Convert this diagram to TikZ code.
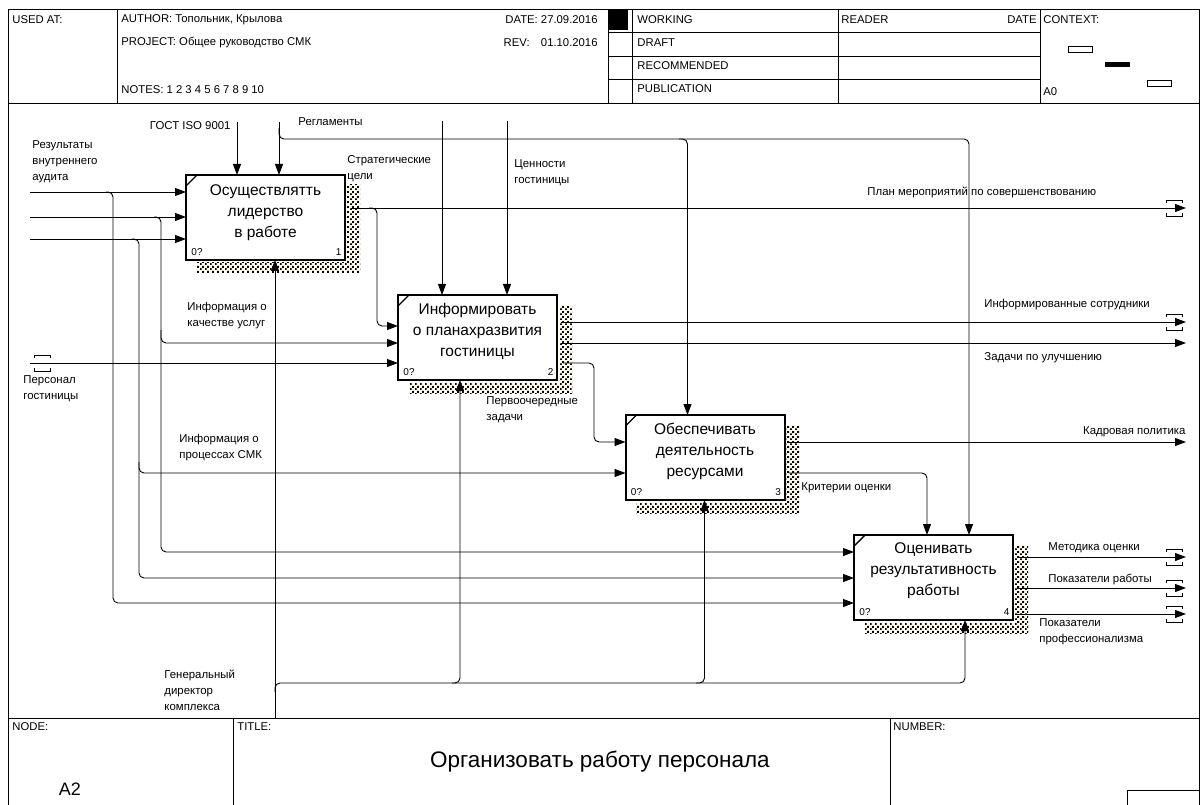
\documentclass[tikz,border=0pt]{standalone}
\usepackage{fontspec}
\setmainfont{Liberation Sans}
\usetikzlibrary{arrows.meta,calc,patterns}
\pgfdeclarepatternformonly{idefdots}{\pgfpointorigin}{\pgfpoint{5pt}{5pt}}{\pgfpoint{5pt}{5pt}}{%
  \pgfpathrectangle{\pgfpoint{0pt}{0pt}}{\pgfpoint{2pt}{2pt}}%
  \pgfpathrectangle{\pgfpoint{2.5pt}{2.5pt}}{\pgfpoint{2pt}{2pt}}%
  \pgfusepath{fill}}
\definecolor{cream}{RGB}{255,252,236}
\newcommand\hvalfont{\fontsize{11.3}{12}\selectfont}
\newcommand\idefShadow[1]{%
  \fill[shadowband] ($(#1.north east)+(2,10)$) rectangle ($(#1.south east)+(15,13)$);
  \fill[shadowband] ($(#1.south west)+(11,3)$) rectangle ($(#1.south east)+(15,13)$);}
\newcommand\idefCorner[1]{%
  \draw[line width=1.4pt] ($(#1.north west)+(0,11)$) -- ($(#1.north west)+(11,0)$);}
\newcommand\idefTunnelR[1]{%
  \draw[line width=0.9pt] ($(#1)+(-20,-5)$) -- ++(0,-3) -- ++(16,0) -- ++(0,3);
  \draw[line width=0.9pt] ($(#1)+(-20,5)$) -- ++(0,3) -- ++(16,0) -- ++(0,-3);}
\newcommand\idefTunnelL[1]{%
  \draw[line width=0.9pt] ($(#1)+(4,-5)$) -- ++(0,-3) -- ++(16,0) -- ++(0,3);
  \draw[line width=0.9pt] ($(#1)+(4,5)$) -- ++(0,3) -- ++(16,0) -- ++(0,-3);}
\begin{document}
\begin{tikzpicture}[x=1pt,y=-1pt,line width=0.9pt,
  box/.style={draw,line width=2pt,minimum width=159pt,minimum height=85pt,inner sep=0pt,outer sep=0pt},
  btxt/.style={font=\fontsize{15.5}{21}\selectfont,align=center,inner sep=0pt},
  lbl/.style={font=\fontsize{11.4}{16}\selectfont,inner sep=0pt,align=left},
  num/.style={font=\fontsize{10}{12}\selectfont,inner sep=0pt},
  hdr/.style={font=\fontsize{11.3}{12}\selectfont,inner sep=0pt,anchor=west},
  arr/.style={-{Triangle[length=11pt,width=8pt]}},
  rc/.style={rounded corners=5pt},
  shadowband/.style={fill=cream,postaction={pattern=idefdots,pattern color=black}}]
\useasboundingbox (0,0) rectangle (1200,805);

% ---------- frame and header ----------
\draw (8,9) rectangle (1199.5,805);
\draw (8,103) -- (1199.5,103);
\draw (117,9) -- (117,103);
\draw (608,9) -- (608,103);
\draw (632,9) -- (632,103);
\draw (838,9) -- (838,103);
\draw (1040,9) -- (1040,103);
\fill (608,9) rectangle (628,30);
\draw (608,32) -- (1040,32);
\draw (608,56) -- (1040,56);
\draw (608,79) -- (1040,79);
\draw (1068,46) rectangle (1092,52);
\fill (1105,62) rectangle (1130,67);
\draw (1147,80) rectangle (1171,86);

\node[hdr] (usedat) at (12,20) {USED AT:};
\node[hdr] (author) at (121,20) {AUTHOR: {\hvalfont Топольник, Крылова}};
\node[hdr] (project) at (121,43) {PROJECT: {\hvalfont Общее руководство СМК}};
\node[hdr] (notes) at (121,90) {NOTES: 1 2 3 4 5 6 7 8 9 10};
\node[hdr,anchor=east] (date) at (598,20) {DATE: {\hvalfont 27.09.2016}};
\node[hdr,anchor=east] (rev) at (598,43) {REV:\quad{\hvalfont 01.10.2016}};
\node[hdr] (working) at (637,20) {WORKING};
\node[hdr] (draft) at (637,43) {DRAFT};
\node[hdr] (recom) at (637,66) {RECOMMENDED};
\node[hdr] (publ) at (637,89) {PUBLICATION};
\node[hdr] (reader) at (841,20) {READER};
\node[hdr,anchor=east] (rdate) at (1037,20) {DATE};
\node[hdr] (context) at (1043,20) {CONTEXT:};
\node[hdr] (a0) at (1043,92) {A0};

% ---------- footer ----------
\draw (8,718) -- (1199.5,718);
\draw (233,718) -- (233,805);
\draw (890,718) -- (890,805);
\draw (1127,790) rectangle (1200,805);
\node[hdr] (nodelbl) at (12,727) {NODE:};
\node[hdr] (titlelbl) at (237,727) {TITLE:};
\node[hdr] (numlbl) at (893,727) {NUMBER:};
\node[font=\fontsize{18}{20}\selectfont,inner sep=0pt] (a2) at (70,789) {A2};
\node[font=\fontsize{22.5}{26}\selectfont,inner sep=0pt] (title) at (600,762) {Организовать работу персонала};

% ---------- shadows and boxes ----------
\node[box] (b1) at (265.5,217.5) {};
\node[box] (b2) at (477.5,337.5) {};
\node[box] (b3) at (705,457.5) {};
\node[box] (b4) at (933.5,577.5) {};
\idefShadow{b1}\idefShadow{b2}\idefShadow{b3}\idefShadow{b4}
\idefCorner{b1}\idefCorner{b2}\idefCorner{b3}\idefCorner{b4}

\node[btxt] (b1t) at ($(b1)+(0,-5)$) {Осуществлятть\\лидерство\\в работе};
\node[btxt] (b2t) at ($(b2)+(0,-6.5)$) {Информировать\\о планахразвития\\гостиницы};
\node[btxt] (b3t) at ($(b3)+(0,-6.5)$) {Обеспечивать\\деятельность\\ресурсами};
\node[btxt] (b4t) at ($(b4)+(0,-6.5)$) {Оценивать\\результативность\\работы};

\node[num,anchor=west] (b1z) at ($(b1.south west)+(5,-8)$) {0?};
\node[num,anchor=east] (b1n) at ($(b1.south east)+(-3,-8)$) {1};
\node[num,anchor=west] (b2z) at ($(b2.south west)+(5,-8)$) {0?};
\node[num,anchor=east] (b2n) at ($(b2.south east)+(-3,-8)$) {2};
\node[num,anchor=west] (b3z) at ($(b3.south west)+(5,-8)$) {0?};
\node[num,anchor=east] (b3n) at ($(b3.south east)+(-3,-8)$) {3};
\node[num,anchor=west] (b4z) at ($(b4.south west)+(5,-8)$) {0?};
\node[num,anchor=east] (b4n) at ($(b4.south east)+(-3,-8)$) {4};

% ---------- ports ----------
\path (b1.north west) ++(0,17) coordinate (b1i1);
\path (b1.north west) ++(0,42) coordinate (b1i2);
\path (b1.north west) ++(0,64) coordinate (b1i3);
\path (b1.north west) ++(51,0) coordinate (b1c1);
\path (b1.north west) ++(93,0) coordinate (b1c2);
\path (b1.south west) ++(89,0) coordinate (b1m1);
\path (b1.north east) ++(6,33) coordinate (b1o1);

\path (b2.north west) ++(0,31) coordinate (b2i1);
\path (b2.north west) ++(0,48) coordinate (b2i2);
\path (b2.north west) ++(0,68) coordinate (b2i3);
\path (b2.north west) ++(44,0) coordinate (b2c1);
\path (b2.north west) ++(109,0) coordinate (b2c2);
\path (b2.south west) ++(62,0) coordinate (b2m1);
\path (b2.north east) ++(4,27) coordinate (b2o1);
\path (b2.north east) ++(4,48) coordinate (b2o2);
\path (b2.north east) ++(6,68) coordinate (b2o3);

\path (b3.north west) ++(0,27) coordinate (b3i1);
\path (b3.north west) ++(0,58) coordinate (b3i2);
\path (b3.north west) ++(62,0) coordinate (b3c1);
\path (b3.south west) ++(79,0) coordinate (b3m1);
\path (b3.north east) ++(4,27) coordinate (b3o1);
\path (b3.north east) ++(4,58) coordinate (b3o2);

\path (b4.north west) ++(0,17) coordinate (b4i1);
\path (b4.north west) ++(0,43) coordinate (b4i2);
\path (b4.north west) ++(0,68) coordinate (b4i3);
\path (b4.north west) ++(73,0) coordinate (b4c1);
\path (b4.north west) ++(115,0) coordinate (b4c2);
\path (b4.south west) ++(111,0) coordinate (b4m1);
\path (b4.north east) ++(4,22) coordinate (b4o1);
\path (b4.north east) ++(4,53) coordinate (b4o2);
\path (b4.north east) ++(4,79) coordinate (b4o3);

% free ends
\coordinate (L1) at (b1i1 -| 30,0);
\coordinate (L2) at (b1i2 -| 30,0);
\coordinate (L3) at (b1i3 -| 30,0);
\coordinate (L4) at (b2i3 -| 30,0);
\coordinate (T1) at (b1c1 |- 0,122);
\coordinate (T2) at (b1c2 |- 0,122);
\coordinate (T3) at (b2c1 |- 0,121);
\coordinate (T4) at (b2c2 |- 0,121);
\coordinate (R1) at (b1o1 -| 1186,0);
\coordinate (R2) at (b2o1 -| 1186,0);
\coordinate (R3) at (b2o2 -| 1186,0);
\coordinate (R4) at (b3o1 -| 1186,0);
\coordinate (R5) at (b4o1 -| 1186,0);
\coordinate (R6) at (b4o2 -| 1186,0);
\coordinate (R7) at (b4o3 -| 1186,0);
\coordinate (M) at (b1m1 |- 0,718);

% ---------- inputs ----------
\draw[arr] (L1) -- (b1i1);
\draw[arr] (L2) -- (b1i2);
\draw[arr] (L3) -- (b1i3);
\draw[arr,rc] (106,0 |- b1i1) -| (113,0 |- b4i3) -- (b4i3);
\draw[arr,rc] (154,0 |- b1i2) -| (161,0 |- b4i1) -- (b4i1);
\draw[arr,rc] (161,330) |- (b2i2);
\draw[arr,rc] (132,0 |- b1i3) -| (139,0 |- b4i2) -- (b4i2);
\draw[arr,rc] (139,462) |- (b3i2);
\draw[arr] (L4) -- (b2i3);
\idefTunnelL{L4}

% ---------- controls ----------
\draw[arr] (T1) -- (b1c1);
\draw[arr] (T2) -- (b1c2);
\draw[arr,rc] (b1c2 |- 0,128) |- (b4c2 |- 0,139) -- (b4c2);
\draw[arr,rc] (679,139) -| (b3c1);
\draw[arr] (T3) -- (b2c1);
\draw[arr] (T4) -- (b2c2);

% ---------- outputs ----------
\draw[arr] (b1o1) -- (R1);
\draw[arr,rc] (369,0 |- b1o1) -| (377,0 |- b2i1) -- (b2i1);
\draw[arr] (b2o1) -- (R2);
\draw[arr] (b2o2) -- (R3);
\draw[arr,rc] (b2o3) -| (594,0 |- b3i1) -- (b3i1);
\draw[arr] (b3o1) -- (R4);
\draw[arr,rc] (b3o2) -| (b4c1);
\draw[arr] (b4o1) -- (R5);
\draw[arr] (b4o2) -- (R6);
\draw[arr] (b4o3) -- (R7);
\idefTunnelR{R1}\idefTunnelR{R2}\idefTunnelR{R5}\idefTunnelR{R6}\idefTunnelR{R7}

% ---------- mechanisms ----------
\draw[arr] (M) -- (b1m1);
\draw[arr,rc] (b1m1 |- 0,692) |- (b4m1 |- 0,683) -- (b4m1);
\draw[arr,rc] (452,683) -| (b2m1);
\draw[arr,rc] (696,683) -| (b3m1);

% ---------- labels ----------
\node[lbl,anchor=east] (lgost) at (231,126) {ГОСТ ISO 9001};
\node[lbl,anchor=west] (lregl) at (298,122) {Регламенты};
\node[lbl,anchor=north west] (laudit) at (32,140) {Результаты\\внутреннего\\аудита};
\node[lbl,anchor=north west] (lstrat) at (347,155) {Стратегические\\цели};
\node[lbl,anchor=north west] (lvalue) at (514,159) {Ценности\\гостиницы};
\node[lbl,anchor=west] (lplan) at (867,192) {План мероприятий по совершенствованию};
\node[lbl,anchor=west] (linfs) at (984,305) {Информированные сотрудники};
\node[lbl,anchor=west] (ltask) at (984,358) {Задачи по улучшению};
\node[lbl,anchor=east] (lkadr) at (1186,432) {Кадровая политика};
\node[lbl,anchor=west] (lcrit) at (801,488) {Критерии оценки};
\node[lbl,anchor=north west] (lprio) at (486,396) {Первоочередные\\задачи};
\node[lbl,anchor=north west] (lqual) at (187,302) {Информация о\\качестве услуг};
\node[lbl,anchor=north west] (lpers) at (23,375) {Персонал\\гостиницы};
\node[lbl,anchor=north west] (lproc) at (179,434) {Информация о\\процессах СМК};
\node[lbl,anchor=north west] (ldir) at (164,670) {Генеральный\\директор\\комплекса};
\node[lbl,anchor=west] (lmeth) at (1048,548) {Методика оценки};
\node[lbl,anchor=west] (lwork) at (1048,579) {Показатели работы};
\node[lbl,anchor=north west] (lprof) at (1039,618) {Показатели\\профессионализма};
\end{tikzpicture}
\end{document}
